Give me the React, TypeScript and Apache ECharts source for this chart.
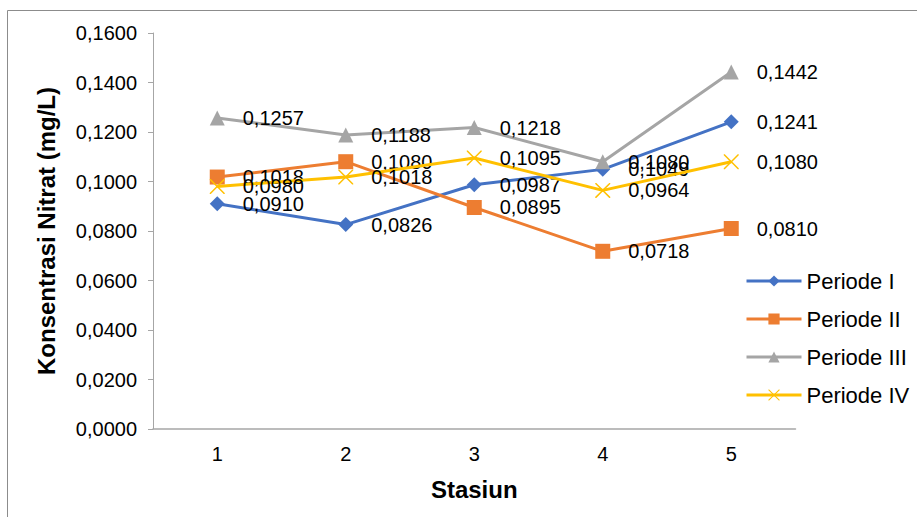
import React, { useEffect, useRef } from "react";
import * as echarts from "echarts";

const stations = ["1", "2", "3", "4", "5"];
const periodeI = [0.091, 0.0826, 0.0987, 0.1049, 0.1241];
const periodeII = [0.1018, 0.108, 0.0895, 0.0718, 0.081];
const periodeIII = [0.1257, 0.1188, 0.1218, 0.108, 0.1442];
const periodeIV = [0.098, 0.1018, 0.1095, 0.0964, 0.108];

const seriesNames = ["Periode I", "Periode II", "Periode III", "Periode IV"];
const seriesColors = ["#4472C4", "#ED7D31", "#A5A5A5", "#FFC000"];

// thin "x" marker built as a filled outline
const crossSymbol =
  "path://M0,0 L1.4,0 L10,8.6 L18.6,0 L20,0 L20,1.4 L11.4,10 L20,18.6 L20,20 L18.6,20 L10,11.4 L1.4,20 L0,20 L0,18.6 L8.6,10 L0,1.4 Z";

const fmt = (v: number) => v.toFixed(4).replace(".", ",");

export default function App() {
  const ref = useRef<HTMLDivElement>(null);

  useEffect(() => {
    if (!ref.current) return;
    const chart = echarts.init(ref.current, null, { renderer: "svg" });
    const font = "'Liberation Sans', Arial, sans-serif";
    const symbols = ["diamond", "rect", "triangle", crossSymbol];
    const sizes = [15, 15, 15, 15];
    const data = [periodeI, periodeII, periodeIII, periodeIV];

    chart.setOption({
      animation: false,
      textStyle: { fontFamily: font },
      graphic: [
        {
          type: "rect",
          shape: { x: 7.5, y: 10.5, width: 1000, height: 600 },
          style: { fill: "none", stroke: "#8c8c8c", lineWidth: 1 },
          silent: true,
        },
      ],
      grid: { left: 153, right: 121.5, top: 33, bottom: 88, containLabel: false },
      legend: {
        orient: "vertical",
        left: 740,
        top: 265,
        itemWidth: 55,
        itemHeight: 14,
        itemGap: 16,
        lineStyle: { width: 3 },
        textStyle: { fontSize: 22, color: "#000", fontFamily: font },
        data: seriesNames,
      },
      xAxis: {
        type: "category",
        data: stations,
        boundaryGap: true,
        name: "Stasiun",
        nameLocation: "middle",
        nameGap: 48,
        nameTextStyle: { fontSize: 24, fontWeight: "bold", color: "#000", fontFamily: font },
        axisLine: { lineStyle: { color: "#a6a6a6", width: 1.5 } },
        axisTick: { show: false },
        axisLabel: { fontSize: 20, color: "#000", margin: 15, fontFamily: font },
        splitLine: { show: false },
      },
      yAxis: {
        type: "value",
        min: 0,
        max: 0.16,
        interval: 0.02,
        name: "Konsentrasi Nitrat (mg/L)",
        nameLocation: "middle",
        nameGap: 95,
        nameTextStyle: { fontSize: 24, fontWeight: "bold", color: "#000", fontFamily: font },
        axisLine: { show: true, lineStyle: { color: "#a6a6a6", width: 1 } },
        axisTick: { show: true, inside: false, length: 5, lineStyle: { color: "#a6a6a6" } },
        axisLabel: {
          fontSize: 20,
          color: "#000",
          margin: 16,
          fontFamily: font,
          formatter: (v: number) => fmt(v),
        },
        splitLine: { show: false },
      },
      series: seriesNames.map((name, i) => ({
        name,
        type: "line",
        data: data[i],
        symbol: symbols[i],
        symbolSize: sizes[i],
        showAllSymbol: true,
        lineStyle: { color: seriesColors[i], width: 3 },
        itemStyle: { color: seriesColors[i] },
        label: {
          show: true,
          position: "right",
          distance: 18,
          offset: [0, 1],
          fontSize: 20,
          color: "#000",
          fontFamily: font,
          formatter: (p: any) => fmt(p.value),
        },
        labelLayout: { hideOverlap: false },
        z: 2 + i,
      })),
    });

    return () => chart.dispose();
  }, []);

  return (
    <div
      ref={ref}
      style={{ position: "fixed", left: 0, top: 0, width: 917, height: 517, background: "#fff" }}
    />
  );
}
